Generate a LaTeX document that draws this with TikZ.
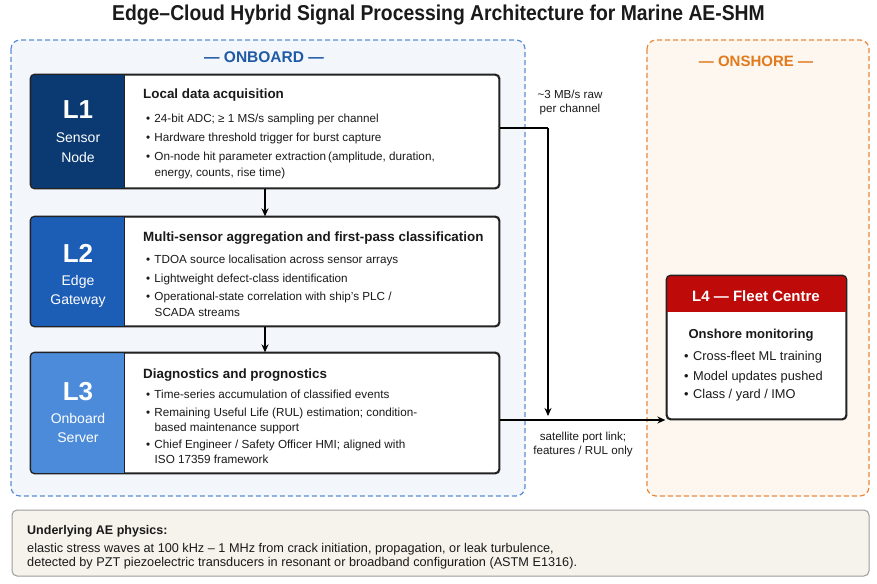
\documentclass[tikz,border=0pt]{standalone}
\usepackage{fontspec}
\setmainfont{Liberation Sans}
\newfontfamily\titlefont[FakeStretch=0.9]{Liberation Sans}
\usetikzlibrary{arrows.meta}
\definecolor{navyA}{HTML}{0B3A73}
\definecolor{blueB}{HTML}{1C5DB6}
\definecolor{blueC}{HTML}{4C8BDA}
\definecolor{onbBorder}{HTML}{5B8FD4}
\definecolor{onbFill}{HTML}{F3F6FB}
\definecolor{onbText}{HTML}{1F5AA6}
\definecolor{onsBorder}{HTML}{E8893C}
\definecolor{onsFill}{HTML}{FDF7F0}
\definecolor{onsText}{HTML}{E27A1E}
\definecolor{redD}{HTML}{BF0A0A}
\definecolor{botFill}{HTML}{F5F3EC}
\definecolor{botBorder}{HTML}{9C9C9C}
\definecolor{boxLine}{HTML}{222222}
\definecolor{txt}{HTML}{1A1A1A}
\tikzset{
  lbox/.style={draw=boxLine, line width=1.3pt, fill=white, rounded corners=4pt, minimum width=468pt, inner sep=0pt},
  bigL/.style={text=white, font=\fontsize{26}{28}\selectfont\bfseries, anchor=base, inner sep=0pt},
  subL/.style={font=\fontsize{14}{16}\selectfont, anchor=base, inner sep=0pt},
  htxt/.style={text=txt, font=\fontsize{13.4}{15}\selectfont\bfseries, anchor=base west, inner sep=0pt},
  btxt/.style={text=txt, font=\fontsize{11.7}{13}\selectfont, anchor=base west, inner sep=0pt},
  ltxt/.style={text=txt, font=\fontsize{11.6}{14}\selectfont, align=center, inner sep=0pt},
  l4txt/.style={inner sep=0pt, text=txt, font=\fontsize{12.8}{14}\selectfont, anchor=base west},
  arr/.style={draw=black, line width=1.3pt, -{Stealth[length=8pt,width=7pt]}},
  conn/.style={draw=black, line width=1.3pt},
  dashbox/.style={line width=1.2pt, dash pattern=on 5pt off 3pt, rounded corners=9pt},
  bottxt/.style={inner sep=0pt, anchor=base west, text=txt, font=\fontsize{12.7}{14}\selectfont},
}
\newcommand{\bulletline}[3]{\node[btxt] (#1) at (#2) {\textbullet\hspace{4.2pt}#3};}
\begin{document}
\begin{tikzpicture}[x=1pt,y=-1pt]
\useasboundingbox (0,0) rectangle (877,583);
\fill[white] (0,0) rectangle (877,583);
% title
\node[inner sep=0pt, text=txt, font=\titlefont\fontsize{21.5}{24}\selectfont\bfseries] (title) at (438.5,15) {Edge–Cloud Hybrid Signal Processing Architecture for Marine AE-SHM};
% containers
\draw[dashbox, draw=onbBorder, fill=onbFill] (11,40) rectangle (525,496);
\node[inner sep=0pt, text=onbText, font=\fontsize{15.5}{17}\selectfont\bfseries] (onb) at (264,57) {— ONBOARD —};
\draw[dashbox, draw=onsBorder, fill=onsFill] (647,40) rectangle (869,496);
\node[inner sep=0pt, text=onsText, font=\fontsize{15}{17}\selectfont\bfseries] (ons) at (756,61) {— ONSHORE —};
% L1
\node[lbox, minimum height=113pt] (L1) at (265,131.5) {};
\begin{scope}
\clip[rounded corners=4pt] (L1.north west) rectangle (L1.south east);
\fill[navyA] (L1.north west) rectangle ([xshift=94pt]L1.south west);
\end{scope}
\draw[draw=boxLine, line width=1.3pt, rounded corners=4pt] (L1.north west) rectangle (L1.south east);
\draw[boxLine, line width=1pt] ([xshift=94pt]L1.north west) -- ([xshift=94pt]L1.south west);
\node[bigL] (L1a) at (78,118) {L1};
\node[subL, text=white] (L1b) at (78,142.5) {Sensor};
\node[subL, text=white] (L1c) at (78,162) {Node};
\node[htxt] (L1t) at (143,99) {Local data acquisition};
\bulletline{L1p1}{146,122}{24-bit ADC; ≥ 1 MS/s sampling per channel}
\bulletline{L1p2}{146,141}{Hardware threshold trigger for burst capture}
\bulletline{L1p3}{146,160.5}{On-node hit parameter extraction\,(amplitude, duration,}
\node[btxt] (L1p3b) at (154.5,176) {energy, counts, rise time)};
% L2
\node[lbox, minimum height=109pt] (L2) at (265,271.5) {};
\begin{scope}
\clip[rounded corners=4pt] (L2.north west) rectangle (L2.south east);
\fill[blueB] (L2.north west) rectangle ([xshift=94pt]L2.south west);
\end{scope}
\draw[draw=boxLine, line width=1.3pt, rounded corners=4pt] (L2.north west) rectangle (L2.south east);
\draw[boxLine, line width=1pt] ([xshift=94pt]L2.north west) -- ([xshift=94pt]L2.south west);
\node[bigL] (L2a) at (78,262) {L2};
\node[subL, text=white] (L2b) at (78,285.5) {Edge};
\node[subL, text=white] (L2c) at (78,304.5) {Gateway};
\node[htxt] (L2t) at (143,241.5) {Multi-sensor aggregation and first-pass classification};
\bulletline{L2p1}{146,263}{TDOA source localisation across sensor arrays}
\bulletline{L2p2}{146,282}{Lightweight defect-class identification}
\bulletline{L2p3}{146,300.5}{Operational-state correlation with ship’s PLC /}
\node[btxt] (L2p3b) at (154.5,316) {SCADA streams};
% L3
\node[lbox, minimum height=120pt] (L3) at (265,413) {};
\begin{scope}
\clip[rounded corners=4pt] (L3.north west) rectangle (L3.south east);
\fill[blueC] (L3.north west) rectangle ([xshift=94pt]L3.south west);
\end{scope}
\draw[draw=boxLine, line width=1.3pt, rounded corners=4pt] (L3.north west) rectangle (L3.south east);
\draw[boxLine, line width=1pt] ([xshift=94pt]L3.north west) -- ([xshift=94pt]L3.south west);
\node[bigL] (L3a) at (78,400) {L3};
\node[subL, text=white] (L3b) at (78,423.5) {Onboard};
\node[subL, text=white] (L3c) at (78,442.5) {Server};
\node[htxt] (L3t) at (143,378) {Diagnostics and prognostics};
\bulletline{L3p1}{146,398.5}{Time-series accumulation of classified events}
\bulletline{L3p2}{146,416.5}{Remaining Useful Life (RUL) estimation; condition-}
\node[btxt] (L3p2b) at (154.5,431.5) {based maintenance support};
\bulletline{L3p3}{146,448.5}{Chief Engineer / Safety Officer HMI; aligned with}
\node[btxt] (L3p3b) at (154.5,463) {ISO 17359 framework};
% L4
\node[draw=boxLine, line width=1.3pt, fill=white, rounded corners=4pt, minimum width=179pt, minimum height=143pt, inner sep=0pt] (L4) at (756.5,347.5) {};
\begin{scope}
\clip[rounded corners=4pt] (L4.north west) rectangle (L4.south east);
\fill[redD] (L4.north west) rectangle ([yshift=-37pt]L4.north east);
\end{scope}
\draw[draw=boxLine, line width=1.3pt, rounded corners=4pt] (L4.north west) rectangle (L4.south east);
\node[inner sep=0pt, text=white, font=\fontsize{15}{17}\selectfont\bfseries] (L4h) at (756,296) {L4 — Fleet Centre};
\node[inner sep=0pt, text=txt, font=\fontsize{13}{15}\selectfont\bfseries] (L4t) at (751,335) {Onshore monitoring};
\node[l4txt] (L4p1) at (684,360.5) {\textbullet\hspace{4.5pt}Cross-fleet ML training};
\node[l4txt] (L4p2) at (684,380) {\textbullet\hspace{4.5pt}Model updates pushed};
\node[l4txt] (L4p3) at (684,398.5) {\textbullet\hspace{4.5pt}Class / yard / IMO};
% connectors
\draw[arr] (L1.south) -- (L2.north);
\draw[arr] (L2.south) -- (L3.north);
\coordinate (j1) at (548,128);
\coordinate (j2) at (548,416);
\draw[conn] ([yshift=3.5pt]L1.east) -- (j1);
\draw[arr] (j1) -- (j2);
\coordinate (h1) at (L4.west |- 0,420);
\draw[arr] (L3.east |- h1) -- ([xshift=-1pt]h1);
\node[ltxt] (lab1) at (570,103) {\textasciitilde3 MB/s raw\\per channel};
\node[ltxt] (lab2) at (583,444) {satellite port link;\\features / RUL only};
% bottom box
\draw[draw=botBorder, line width=1pt, fill=botFill, rounded corners=5pt] (12,510) rectangle (869,576);
\node[inner sep=0pt, anchor=base west, text=txt, font=\fontsize{12.5}{14}\selectfont\bfseries] (bt) at (27,534) {Underlying AE physics:};
\node[bottxt] (b1) at (27,552.5) {elastic stress waves at 100 kHz – 1 MHz from crack initiation, propagation, or leak turbulence,};
\node[bottxt] (b2) at (27,566) {detected by PZT piezoelectric transducers in resonant or broadband configuration (ASTM E1316).};
\end{tikzpicture}
\end{document}
